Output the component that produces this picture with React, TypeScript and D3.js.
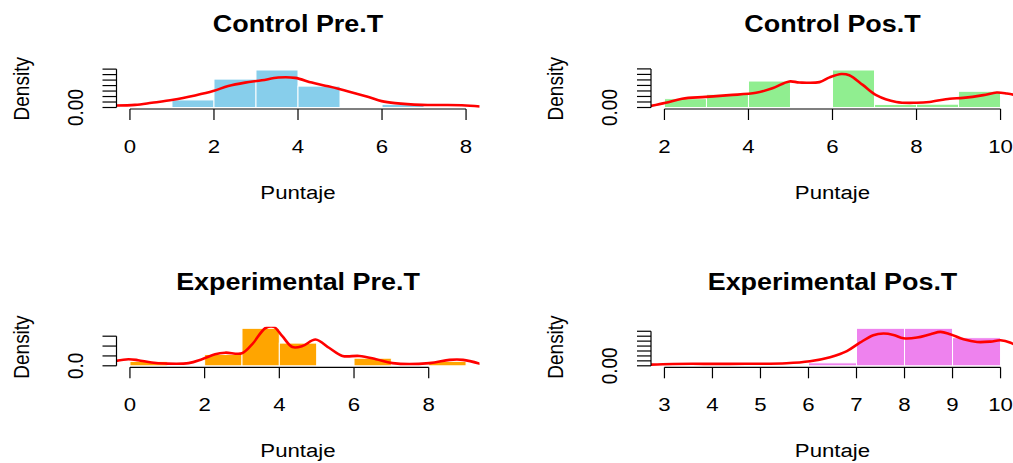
import React from "react";
import * as d3 from "d3";

// ---- data ----
const titles = ["Control Pre.T", "Control Pos.T", "Experimental Pre.T", "Experimental Pos.T"];
const fills = ["#87CEEB", "#90EE90", "#FFA500", "#EE82EE"];

// x limits of each panel and their tick labels
const xLimits = [[0, 8], [2, 10], [0, 9], [3, 10]];
const xTicks = [[0, 2, 4, 6, 8], [2, 4, 6, 8, 10], [0, 2, 4, 6, 8], [3, 4, 5, 6, 7, 8, 9, 10]];
const yTickSteps = [0.05, 0.05, 0.1, 0.05];

// histogram breaks and densities
const cpreBreaks = [1, 2, 3, 4, 5, 6, 7];
const cpreDens = [0.069, 0.259, 0.342, 0.195, 0, 0.029];
const cposBreaks = [2, 3, 4, 5, 6, 7, 8, 9, 10];
const cposDens = [0.08, 0.12, 0.24, 0, 0.34, 0.028, 0.03, 0.147];
const epreBreaks = [0, 1, 2, 3, 4, 5, 6, 7, 8, 9];
const epreDens = [0.045, 0, 0.115, 0.38, 0.23, 0, 0.077, 0, 0.045];
const eposBreaks = [3, 4, 5, 6, 7, 8, 9, 10];
const eposDens = [0, 0, 0, 0.03, 0.38, 0.38, 0.285];

// kernel density curves (x, y)
const cpreKx = [-0.33, 0.12, 0.52, 1.03, 1.55, 1.98, 2.34, 2.74, 3.14, 3.53, 3.93, 4.33, 4.72, 5.2, 5.68, 5.99, 6.31, 6.94, 7.9, 8.33];
const cpreKy = [0.018, 0.024, 0.043, 0.07, 0.11, 0.15, 0.196, 0.227, 0.248, 0.273, 0.27, 0.227, 0.193, 0.147, 0.095, 0.058, 0.04, 0.024, 0.021, 0.009];
const cposKx = [1.65, 2.03, 2.42, 2.98, 3.54, 4.18, 4.57, 4.97, 5.21, 5.69, 5.93, 6.21, 6.4, 6.72, 7.04, 7.52, 8.0, 8.31, 8.79, 9.11, 9.59, 9.91, 10.15, 10.35];
const cposKy = [0.012, 0.043, 0.08, 0.096, 0.112, 0.133, 0.174, 0.236, 0.227, 0.23, 0.273, 0.304, 0.292, 0.205, 0.112, 0.05, 0.043, 0.05, 0.08, 0.087, 0.112, 0.136, 0.127, 0.112];
const epreKx = [-0.38, -0.04, 0.22, 0.58, 0.94, 1.57, 1.93, 2.28, 2.55, 3.0, 3.27, 3.63, 3.85, 4.08, 4.35, 4.62, 4.97, 5.33, 5.69, 6.14, 6.59, 7.03, 8.02, 8.56, 8.92, 9.41];
const epreKy = [0.05, 0.067, 0.057, 0.033, 0.023, 0.027, 0.067, 0.117, 0.133, 0.127, 0.217, 0.383, 0.395, 0.3, 0.19, 0.2, 0.267, 0.183, 0.1, 0.1, 0.067, 0.027, 0.027, 0.06, 0.06, 0.017];
const eposKx = [2.71, 3.17, 4.36, 5.54, 6.03, 6.45, 6.8, 7.07, 7.35, 7.56, 7.77, 7.98, 8.26, 8.54, 8.75, 8.95, 9.23, 9.51, 9.79, 10.0, 10.21, 10.3];
const eposKy = [0.012, 0.019, 0.02, 0.026, 0.046, 0.087, 0.149, 0.234, 0.31, 0.327, 0.313, 0.279, 0.286, 0.32, 0.344, 0.32, 0.269, 0.241, 0.245, 0.259, 0.234, 0.21];

const breaks = [cpreBreaks, cposBreaks, epreBreaks, eposBreaks];
const dens = [cpreDens, cposDens, epreDens, eposDens];
const kx = [cpreKx, cposKx, epreKx, eposKx];
const ky = [cpreKy, cposKy, epreKy, eposKy];

// ---- layout ----
const W = 1013;
const H = 463;
const colLeft = [116.5, 651];
const plotW = 363;
const rowBottom = [109, 367.3];
const plotH = 40.5;
const SX = 1.17; // the reference is stretched sideways
const FONT = "'Liberation Sans', Arial, sans-serif";

function Panel({ i }: { i: number }) {
  const left = colLeft[i % 2];
  const right = left + plotW;
  const bottom = rowBottom[Math.floor(i / 2)];
  const top = bottom - plotH;

  const [lo, hi] = xLimits[i];
  const pad = (hi - lo) * 0.04;
  const x = d3.scaleLinear().domain([lo - pad, hi + pad]).range([left, right]);
  const ymax = d3.max(dens[i]) as number;
  const y = d3.scaleLinear().domain([-0.04 * ymax, 1.04 * ymax]).range([bottom, top]);

  const step = yTickSteps[i];
  const yTicks = d3.range(0, 1.04 * ymax + 1e-9, step);
  const fmt = d3.format(`.${d3.precisionFixed(step)}f`);

  const bars = dens[i].map((d, j) => ({ x0: breaks[i][j], x1: breaks[i][j + 1], d }));
  const pts = kx[i].map((v, j) => [v, ky[i][j]] as [number, number]);
  const line = d3.line<[number, number]>()
    .x(d => x(d[0]))
    .y(d => y(d[1]))
    .curve(d3.curveCatmullRom);

  const cx = (left + right) / 2;
  const cy = (top + bottom) / 2;
  const xt = xTicks[i];
  const clipId = `clip${i}`;

  return (
    <g>
      <clipPath id={clipId}>
        <rect x={left} y={top} width={plotW} height={plotH} />
      </clipPath>
      <text transform={`translate(${cx},${top - 36.5}) scale(${SX},1)`} textAnchor="middle"
        fontSize={23} fontWeight="bold" fontFamily={FONT} fill="#000">{titles[i]}</text>

      {bars.filter(b => b.d > 0).map((b, j) => (
        <rect key={j} x={x(b.x0)} y={y(b.d)} width={x(b.x1) - x(b.x0)} height={y(0) - y(b.d)}
          fill={fills[i]} stroke="#fff" strokeWidth={1} />
      ))}

      <path d={line(pts) || ""} fill="none" stroke="#FF0000" strokeWidth={2.6}
        clipPath={`url(#${clipId})`} />

      {/* x axis */}
      <g stroke="#000" strokeWidth={1.2}>
        <line x1={x(xt[0])} x2={x(xt[xt.length - 1])} y1={bottom} y2={bottom} />
        {xt.map(t => <line key={t} x1={x(t)} x2={x(t)} y1={bottom} y2={bottom + 11} />)}
      </g>
      {xt.map(t => (
        <text key={t} transform={`translate(${x(t)},${bottom + 44}) scale(${SX},1)`} textAnchor="middle"
          fontSize={19} fontFamily={FONT} fill="#000">{t}</text>
      ))}
      <text transform={`translate(${cx},${bottom + 90}) scale(${SX},1)`} textAnchor="middle"
        fontSize={19} fontFamily={FONT} fill="#000">Puntaje</text>

      {/* y axis */}
      <g stroke="#000" strokeWidth={1.2}>
        <line x1={left} x2={left} y1={y(0)} y2={y(yTicks[yTicks.length - 1])} />
        {yTicks.map(t => <line key={t} x1={left} x2={left - 14} y1={y(t)} y2={y(t)} />)}
      </g>
      <text transform={`translate(${left - 34},${y(0)}) scale(${SX},1) rotate(-90)`} textAnchor="middle"
        fontSize={19} fontFamily={FONT} fill="#000">{fmt(0)}</text>
      <text transform={`translate(${left - 88},${cy}) scale(${SX},1) rotate(-90)`} textAnchor="middle"
        fontSize={19} fontFamily={FONT} fill="#000">Density</text>
    </g>
  );
}

export default function App() {
  return (
    <svg width={W} height={H} style={{ position: "absolute", left: 0, top: 0, background: "#fff" }}>
      <rect width={W} height={H} fill="#fff" />
      {[0, 1, 2, 3].map(i => <Panel key={i} i={i} />)}
    </svg>
  );
}
